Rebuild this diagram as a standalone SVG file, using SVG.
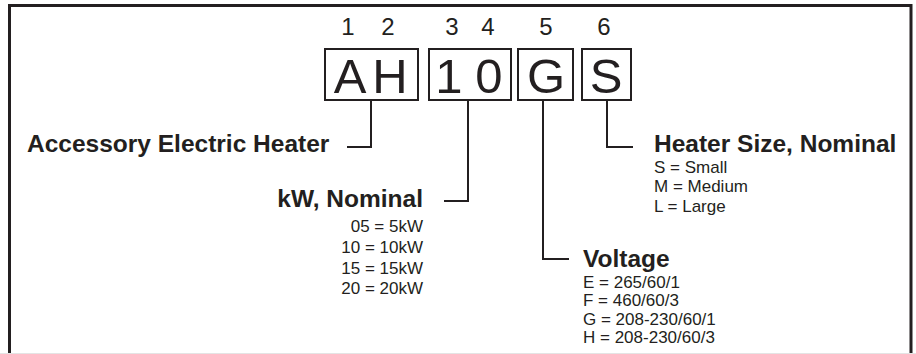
<svg xmlns="http://www.w3.org/2000/svg" width="916" height="354" viewBox="0 0 916 354">
<style>
.frame{fill:none;stroke:#231f20;stroke-width:3}
.box{fill:none;stroke:#231f20;stroke-width:2}
.conn{fill:none;stroke:#231f20;stroke-width:2}
text{font-family:"Liberation Sans",Arial,Helvetica,sans-serif;fill:#231f20}
.pos{font-size:24px}
.big{font-size:49px}
.head{font-size:24.5px;font-weight:bold}
.item{font-size:17px}
</style>
<rect width="916" height="354" fill="#ffffff"/>
<path class="frame" d="M9.5,356 V5.5 H911 V356"/>
<line x1="0" y1="353.5" x2="916" y2="353.5" stroke="#e4e4e4" stroke-width="1"/>
<g id="positions">
<text class="pos" x="348" y="35" text-anchor="middle">1</text>
<text class="pos" x="388" y="35" text-anchor="middle">2</text>
<text class="pos" x="452" y="35" text-anchor="middle">3</text>
<text class="pos" x="488" y="35" text-anchor="middle">4</text>
<text class="pos" x="546" y="35" text-anchor="middle">5</text>
<text class="pos" x="604" y="35" text-anchor="middle">6</text>
</g>
<g id="box-AH">
<rect class="box" x="325" y="49" width="93" height="51"/>
<text class="big" x="350" y="93" text-anchor="middle">A</text>
<text class="big" x="390" y="93" text-anchor="middle">H</text>
</g>
<g id="box-10">
<rect class="box" x="429" y="49" width="82" height="51"/>
<text class="big" x="449" y="93" text-anchor="middle">1</text>
<text class="big" x="489" y="93" text-anchor="middle">0</text>
</g>
<g id="box-G">
<rect class="box" x="518" y="49" width="55" height="51"/>
<text class="big" x="546" y="93" text-anchor="middle">G</text>
</g>
<g id="box-S">
<rect class="box" x="582" y="49" width="49" height="51"/>
<text class="big" x="606" y="93" text-anchor="middle">S</text>
</g>
<g id="connectors">
<path class="conn" d="M371,100 V147 H347"/>
<path class="conn" d="M468,100 V201 H444"/>
<path class="conn" d="M543,100 V259 H569"/>
<path class="conn" d="M607,100 V147 H633"/>
</g>
<g id="label-accessory">
<text class="head" x="27" y="152">Accessory Electric Heater</text>
</g>
<g id="label-kw">
<text class="head" x="423" y="207" text-anchor="end">kW, Nominal</text>
<text class="item" x="423" y="232" text-anchor="end">05 = 5kW</text>
<text class="item" x="423" y="253" text-anchor="end">10 = 10kW</text>
<text class="item" x="423" y="274" text-anchor="end">15 = 15kW</text>
<text class="item" x="423" y="294" text-anchor="end">20 = 20kW</text>
</g>
<g id="label-voltage">
<text class="head" x="583" y="267">Voltage</text>
<text class="item" x="583" y="288">E = 265/60/1</text>
<text class="item" x="583" y="306">F = 460/60/3</text>
<text class="item" x="583" y="324.5">G = 208-230/60/1</text>
<text class="item" x="583" y="343">H = 208-230/60/3</text>
</g>
<g id="label-size">
<text class="head" x="654" y="152">Heater Size, Nominal</text>
<text class="item" x="654" y="173">S = Small</text>
<text class="item" x="654" y="192">M = Medium</text>
<text class="item" x="654" y="212">L = Large</text>
</g>
</svg>
